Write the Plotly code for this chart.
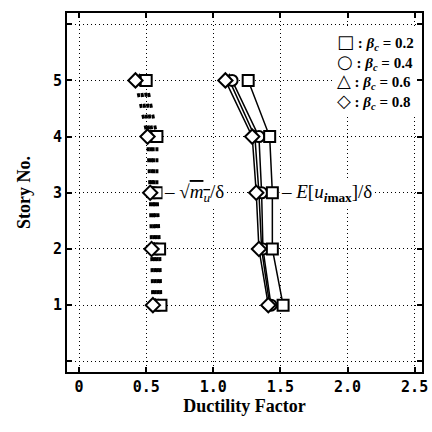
import plotly.graph_objects as go

stories = [1, 2, 3, 4, 5]
betas = ["0.2", "0.4", "0.6", "0.8"]
symbols = ["square", "circle", "triangle-up", "diamond"]
legend_glyphs = ["□", "○", "△", "◇\ufe0e"]

# E[u_imax]/delta  (solid lines)
emax = {
    "0.2": [1.52, 1.44, 1.44, 1.42, 1.26],
    "0.4": [1.43, 1.37, 1.36, 1.34, 1.14],
    "0.6": [1.42, 1.36, 1.34, 1.31, 1.12],
    "0.8": [1.41, 1.34, 1.32, 1.29, 1.09],
}
# sqrt(m_u)/delta  (dotted lines)
sqm = {
    "0.2": [0.61, 0.60, 0.58, 0.58, 0.50],
    "0.4": [0.59, 0.58, 0.56, 0.55, 0.48],
    "0.6": [0.57, 0.56, 0.55, 0.53, 0.45],
    "0.8": [0.55, 0.54, 0.53, 0.51, 0.42],
}

xticks = [0, 0.5, 1.0, 1.5, 2.0, 2.5]
xticktext = ["0", "0.5", "1.0", "1.5", "2.0", "2.5"]
yticks = [0, 1, 2, 3, 4, 5, 6]
yticktext = ["", "1", "2", "3", "4", "5", ""]

fig = go.Figure()
order = [2, 1, 0, 3]
for i in order:
    b = betas[i]
    fig.add_trace(go.Scatter(
        x=sqm[b], y=stories, mode="lines+markers", showlegend=False,
        line=dict(color="black", width=3, dash="4px,7px"),
        marker=dict(symbol=symbols[i], size=11, color="white",
                    line=dict(color="black", width=2)),
    ))
for i in order:
    b = betas[i]
    fig.add_trace(go.Scatter(
        x=emax[b], y=stories, mode="lines+markers", showlegend=False,
        line=dict(color="black", width=1.5),
        marker=dict(symbol=symbols[i], size=11, color="white",
                    line=dict(color="black", width=2)),
    ))

legend_lines = [
    f"<span style='font-family:\"DejaVu Sans\";font-size:18px'>{g}</span>"
    f"<b>&nbsp;: <i>β<sub>c</sub></i> = {b}</b>"
    for g, b in zip(legend_glyphs, betas)
]
fig.add_annotation(
    x=0.985, y=0.958, xref="paper", yref="paper", xanchor="right", yanchor="top",
    text="<br>".join(legend_lines), align="left", showarrow=False,
    bgcolor="white", borderpad=2,
    font=dict(family="Liberation Serif", size=15, color="black"),
)

fig.add_annotation(
    x=0.62, y=3, xref="x", yref="y", xanchor="left", yanchor="middle",
    text="– √<span style='text-decoration:overline'><i>m<sub>u</sub></i></span>/δ",
    showarrow=False, bgcolor="white",
    font=dict(family="Liberation Serif", size=19, color="black"),
)
fig.add_annotation(
    x=1.49, y=3, xref="x", yref="y", xanchor="left", yanchor="middle",
    text="– <i>E</i>[<i>u</i><sub><b><i>i</i>max</b></sub>]/δ",
    showarrow=False, bgcolor="white",
    font=dict(family="Liberation Serif", size=19, color="black"),
)

axis_common = dict(
    showline=True, linecolor="black", linewidth=2, mirror="ticks",
    ticks="inside", ticklen=5, tickwidth=2, tickcolor="black",
    showgrid=True, gridcolor="black", gridwidth=1, griddash="1px,3px",
    zeroline=False, ticklabeloverflow="allow",
    tickfont=dict(family="DejaVu Sans Mono", size=15, color="black", weight="bold"),
)

fig.update_xaxes(
    range=[-0.09, 2.555], tickvals=xticks, ticktext=xticktext,
    title=dict(text="<b>Ductility Factor</b>", standoff=4,
               font=dict(family="Liberation Serif", size=18, color="black")),
    **axis_common,
)
fig.update_yaxes(
    range=[-0.19, 6.2], tickvals=yticks, ticktext=yticktext,
    title=dict(text="<b>Story No.</b>", standoff=18,
               font=dict(family="Liberation Serif", size=18, color="black")),
    **axis_common,
)

fig.update_layout(
    width=432, height=432,
    margin=dict(l=67, r=4, t=13, b=60),
    paper_bgcolor="white", plot_bgcolor="white",
    showlegend=False,
)

fig.write_html("out.html")
